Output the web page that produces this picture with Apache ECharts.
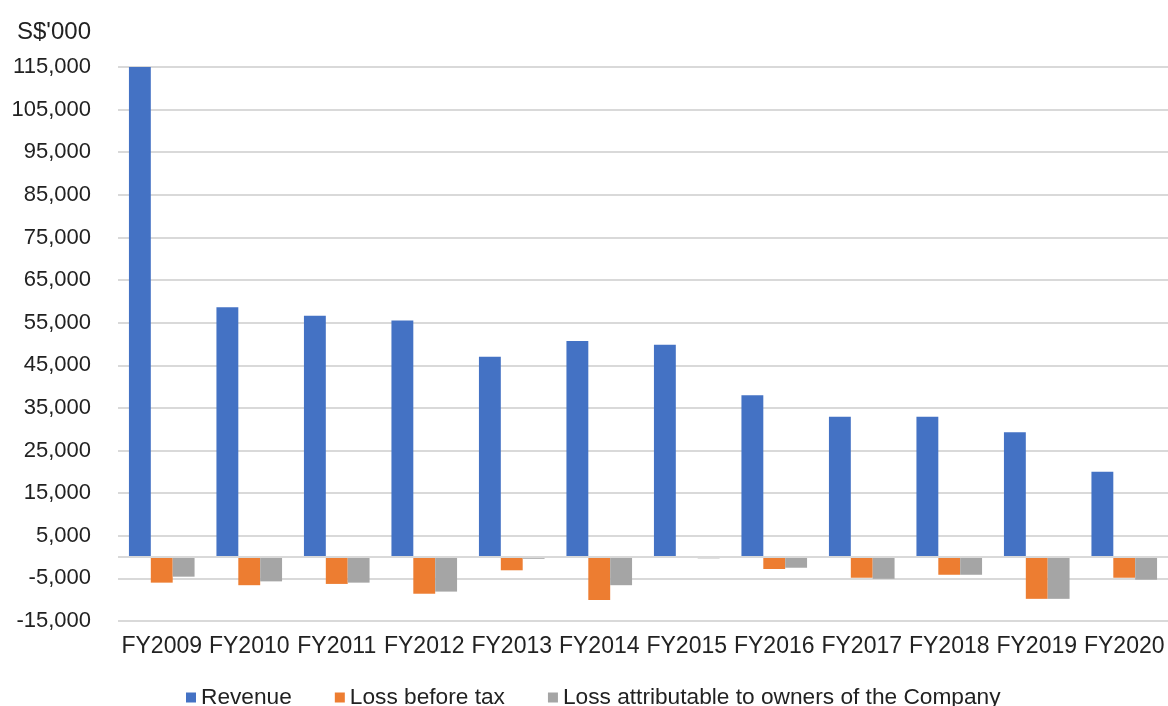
<!DOCTYPE html>
<html>
<head>
<meta charset="utf-8">
<script src="https://cdn.jsdelivr.net/npm/echarts@6/dist/echarts.min.js"></script>
<style>
  html, body { margin: 0; padding: 0; background: #fff; }
  #chart { width: 1168px; height: 706px; }
</style>
</head>
<body>
<div id="chart"></div>
<script>
// 数据
const years = ['FY2009', 'FY2010', 'FY2011', 'FY2012', 'FY2013', 'FY2014', 'FY2015', 'FY2016', 'FY2017', 'FY2018', 'FY2019', 'FY2020']
const revenue = [115500, 58600, 56600, 55500, 47000, 50700, 49800, 38000, 32900, 32900, 29300, 20000]
const lossBeforeTax = [-6000, -6600, -6300, -8600, -3100, -10100, -150, -2800, -4850, -4150, -9800, -4850]
const lossOwners = [-4600, -5700, -6000, -8100, -400, -6600, -300, -2500, -5100, -4150, -9800, -5300]
const yTicks = [-15000, -5000, 5000, 15000, 25000, 35000, 45000, 55000, 65000, 75000, 85000, 95000, 105000, 115000]

const fontFamily = 'Liberation Sans, Arial, sans-serif'
const textColor = '#222222'
const gridColor = '#d9d9d9'

const chart = echarts.init(document.getElementById('chart'))
chart.setOption({
  animation: false,
  title: {
    text: "S$'000",
    left: 12,
    top: 15,
    textStyle: {
      fontSize: 24,
      fontWeight: 'normal',
      fontFamily: fontFamily,
      color: textColor
    }
  },
  grid: {
    left: 118,
    right: -12,
    top: 67,
    bottom: 85
  },
  legend: {
    data: ['Revenue', 'Loss before tax', 'Loss attributable to owners of the Company'],
    left: 186,
    top: 686,
    padding: 0,
    icon: 'rect',
    itemWidth: 10,
    itemHeight: 10,
    itemGap: 43,
    textStyle: {
      fontSize: 22.7,
      fontFamily: fontFamily,
      color: textColor
    }
  },
  xAxis: {
    type: 'category',
    data: years,
    axisTick: { show: false },
    axisLine: { show: false, onZero: false },
    axisLabel: {
      interval: 0,
      margin: 14,
      fontSize: 23,
      fontFamily: fontFamily,
      color: textColor
    }
  },
  yAxis: {
    type: 'value',
    min: -15000,
    max: 115000,
    axisLine: { show: false },
    axisTick: { show: false, customValues: yTicks },
    splitLine: {
      lineStyle: { color: gridColor, width: 2 }
    },
    axisLabel: {
      customValues: yTicks,
      margin: 27,
      fontSize: 22,
      fontFamily: fontFamily,
      color: textColor,
      formatter: v => v.toLocaleString('en-US')
    }
  },
  series: [
    {
      name: 'Revenue',
      type: 'bar',
      data: revenue,
      barGap: '0%',
      barCategoryGap: '25%',
      itemStyle: { color: '#4472C4' },
      markLine: {
        silent: true,
        symbol: 'none',
        label: { show: false },
        lineStyle: { color: gridColor, type: 'solid', width: 2 },
        data: [{ yAxis: 0 }]
      }
    },
    {
      name: 'Loss before tax',
      type: 'bar',
      data: lossBeforeTax,
      itemStyle: { color: '#ED7D31' }
    },
    {
      name: 'Loss attributable to owners of the Company',
      type: 'bar',
      data: lossOwners,
      itemStyle: { color: '#A5A5A5' }
    }
  ]
})
</script>
</body>
</html>
